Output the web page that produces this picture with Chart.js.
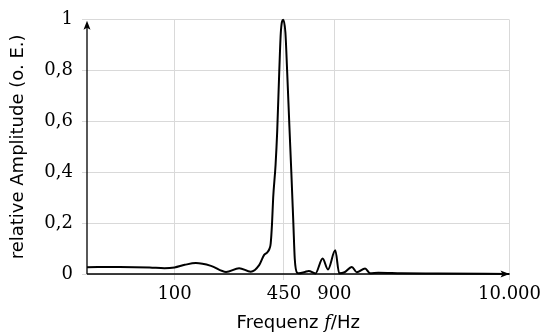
<!DOCTYPE html>
<html>
<head>
<meta charset="utf-8">
<script src="https://cdn.jsdelivr.net/npm/chart.js@4"></script>
<style>
  html, body { margin: 0; padding: 0; background: #fff; }
  canvas { display: block; }
</style>
</head>
<body>
<canvas id="grafico" width="545" height="336"></canvas>
<script>
// Spektrum
const freqHz = [30, 47, 71, 87, 100, 115, 134, 165, 203, 243, 285, 320, 342, 358, 369, 375, 382, 388, 401, 410, 422, 431, 445, 459, 470, 485, 498, 512, 522, 539, 552, 600, 633, 693, 766, 824, 911, 962, 1035, 1144, 1224, 1373, 1470, 1647, 2264, 3739, 10000];
const amplitude = [0.027, 0.028, 0.026, 0.023, 0.026, 0.036, 0.043, 0.032, 0.008, 0.023, 0.009, 0.035, 0.074, 0.085, 0.10, 0.12, 0.20, 0.30, 0.43, 0.56, 0.80, 0.95, 1.0, 0.95, 0.80, 0.58, 0.40, 0.20, 0.06, 0.005, 0.003, 0.008, 0.012, 0.002, 0.061, 0.018, 0.093, 0.003, 0.007, 0.028, 0.007, 0.022, 0.003, 0.005, 0.003, 0.002, 0];

const xTicks = [100, 450, 900, 10000];
const xTickLabels = ['100', '450', '900', '10.000'];
const yTicks = [0, 0.2, 0.4, 0.6, 0.8, 1];
const yTickLabels = ['0', '0,2', '0,4', '0,6', '0,8', '1'];

const gridGrau = '#d9d9d9';

// Achsenpfeile + x-Titel (f kursiv)
const achsen = {
    id: 'achsen',
    afterDraw(chart) {
        const { ctx, chartArea: { left, right, top, bottom } } = chart;
        ctx.save();
        ctx.strokeStyle = '#000';
        ctx.fillStyle = '#000';
        ctx.lineWidth = 1.3;
        ctx.beginPath();
        ctx.moveTo(left, bottom);
        ctx.lineTo(left, top + 4);
        ctx.moveTo(left, bottom);
        ctx.lineTo(right - 4, bottom);
        ctx.stroke();
        // pfeil oben
        ctx.beginPath();
        ctx.moveTo(left, top + 1);
        ctx.lineTo(left - 3.5, top + 10);
        ctx.lineTo(left, top + 8);
        ctx.lineTo(left + 3.5, top + 10);
        ctx.closePath();
        ctx.fill();
        // pfeil rechts
        ctx.beginPath();
        ctx.moveTo(right, bottom);
        ctx.lineTo(right - 9, bottom - 3.5);
        ctx.lineTo(right - 7, bottom);
        ctx.lineTo(right - 9, bottom + 3.5);
        ctx.closePath();
        ctx.fill();

        const teile = [
            ['Frequenz ', '18px "DejaVu Sans"'],
            ['f', 'italic 18px "DejaVu Serif"'],
            ['/Hz', '18px "DejaVu Sans"']
        ];
        let breite = 0;
        teile.forEach(t => { ctx.font = t[1]; breite += ctx.measureText(t[0]).width; });
        let x = (left + right) / 2 - breite / 2;
        ctx.textBaseline = 'alphabetic';
        teile.forEach(t => {
            ctx.font = t[1];
            ctx.fillText(t[0], x, 328);
            x += ctx.measureText(t[0]).width;
        });
        ctx.restore();
    }
};

const ctx = document.getElementById('grafico').getContext('2d');

const chart = new Chart(ctx, {
    type: 'line',
    data: {
        datasets: [{
            data: freqHz.map((f, i) => ({ x: f, y: amplitude[i] })),
            borderColor: '#000',
            borderWidth: 2,
            pointRadius: 0,
            fill: false,
            cubicInterpolationMode: 'monotone',
            clip: 6
        }]
    },
    options: {
        responsive: false,
        animation: false,
        devicePixelRatio: 1,
        layout: { padding: { left: 0, right: 33, top: 16, bottom: 0 } },
        plugins: { legend: { display: false }, tooltip: { enabled: false } },
        scales: {
            x: {
                type: 'logarithmic',
                min: 30,
                max: 10000,
                afterBuildTicks: s => { s.ticks = xTicks.map(v => ({ value: v })); },
                afterFit: s => { s.height = 62; },
                ticks: {
                    autoSkip: false,
                    maxRotation: 0,
                    padding: 4,
                    color: '#000',
                    font: { family: 'DejaVu Serif', size: 18 },
                    callback: (v, i) => xTickLabels[i]
                },
                grid: { color: gridGrau, tickLength: 6, tickColor: gridGrau },
                border: { display: false },
                title: { display: false }
            },
            y: {
                min: 0,
                max: 1,
                afterBuildTicks: s => { s.ticks = yTicks.map(v => ({ value: v })); },
                afterFit: s => { s.width = 87; },
                ticks: {
                    padding: 9,
                    color: '#000',
                    font: { family: 'DejaVu Serif', size: 18 },
                    callback: (v, i) => yTickLabels[i]
                },
                grid: { color: gridGrau, tickLength: 5, tickColor: gridGrau },
                border: { display: false },
                title: {
                    display: true,
                    text: 'relative Amplitude (o. E.)',
                    color: '#000',
                    font: { family: 'DejaVu Sans', size: 18 },
                    padding: { top: 8, bottom: 0 }
                }
            }
        }
    },
    plugins: [achsen]
});
</script>
</body>
</html>
